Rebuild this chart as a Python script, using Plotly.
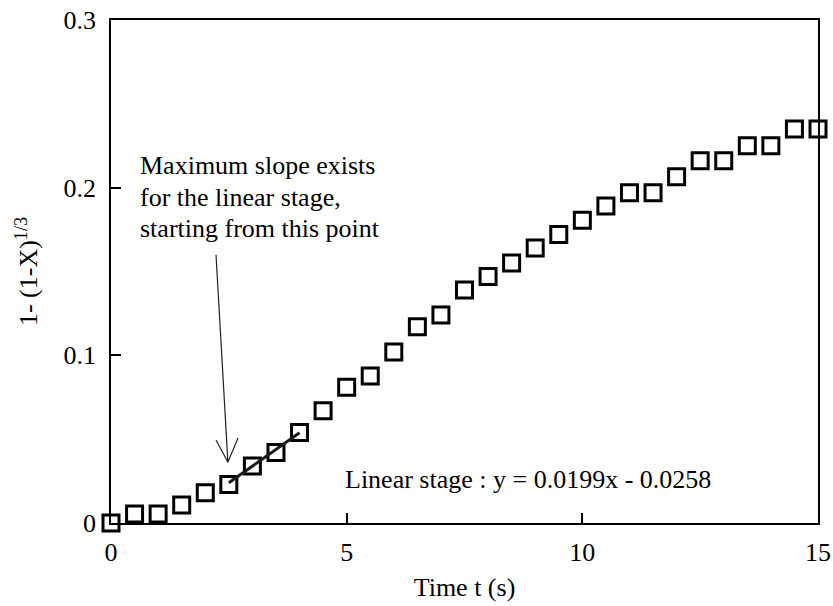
import plotly.graph_objects as go

# ---- data ----
time_s = [0.0, 0.5, 1.0, 1.5, 2.0, 2.5, 3.0, 3.5, 4.0, 4.5, 5.0, 5.5, 6.0, 6.5, 7.0, 7.5,
          8.0, 8.5, 9.0, 9.5, 10.0, 10.5, 11.0, 11.5, 12.0, 12.5, 13.0, 13.5, 14.0, 14.5, 15.0]
conv = [0.000, 0.0054, 0.0054, 0.0107, 0.018, 0.023, 0.034, 0.042, 0.054, 0.067, 0.081,
        0.0877, 0.102, 0.117, 0.124, 0.139, 0.147, 0.155, 0.164, 0.172, 0.1805, 0.189,
        0.197, 0.197, 0.2065, 0.216, 0.216, 0.225, 0.225, 0.235, 0.235]

fit_slope = 0.0199
fit_intercept = -0.0258
fit_range = [2.5, 4.0]

x_ticks = [0, 5, 10, 15]
y_ticks = [0, 0.1, 0.2, 0.3]
y_ticklabels = ["0", "0.1", "0.2", "0.3"]

FONT = "Liberation Serif"
FS = 26

fig = go.Figure()

fig.add_trace(go.Scatter(
    x=time_s, y=conv, mode="markers",
    marker=dict(symbol="square-open", size=16, color="black", line=dict(width=3, color="black")),
    cliponaxis=False, showlegend=False,
))

fit_x = fit_range
fit_y = [fit_slope * v + fit_intercept for v in fit_x]
fig.add_trace(go.Scatter(
    x=fit_x, y=fit_y, mode="lines",
    line=dict(color="#1a1a1a", width=3), showlegend=False,
))

# arrow (thin shaft with open V head)
tip = (2.48, 0.0363)
fig.add_shape(type="path",
              path=f"M 2.228,0.160 L {tip[0]},{tip[1]} M 2.228,0.0495 L {tip[0]},{tip[1]} L 2.695,0.0507",
              xref="x", yref="y", line=dict(color="#222", width=1.2))

note_lines = ["Maximum slope exists", "for the linear stage,", "starting from this point"]
note_y = [0.2135, 0.1944, 0.1755]
for txt, yy in zip(note_lines, note_y):
    fig.add_annotation(x=0.573, y=yy, xref="x", yref="y", text=txt, showarrow=False,
                       xanchor="left", yanchor="middle", font=dict(family=FONT, size=FS, color="black"))

fig.add_annotation(x=4.92, y=0.0262, xref="x", yref="y",
                   text=f"Linear stage : y = {fit_slope:.4f}x - {abs(fit_intercept):.4f}",
                   showarrow=False, xanchor="left", yanchor="middle",
                   font=dict(family=FONT, size=FS, color="black"))

fig.update_layout(
    width=833, height=606,
    margin=dict(l=111, r=15, t=20, b=83, autoexpand=False),
    paper_bgcolor="white", plot_bgcolor="white",
    font=dict(family=FONT, size=FS, color="black"),
    xaxis=dict(range=[0, 15], tickvals=x_ticks, ticks="inside", ticklen=10, tickwidth=1.5,
               tickcolor="black", showline=True, linecolor="black", linewidth=1.5, mirror=True,
               showgrid=False, zeroline=False, ticklabelstandoff=5, automargin=False,
               title=dict(text="Time t (s)", font=dict(family=FONT, size=FS), standoff=12)),
    yaxis=dict(range=[0, 0.3], tickvals=y_ticks, ticktext=y_ticklabels, ticks="inside", ticklen=10,
               tickwidth=1.5, tickcolor="black", showline=True, linecolor="black", linewidth=1.5,
               mirror=True, showgrid=False, zeroline=False, ticklabelstandoff=8, automargin=False,
               title=dict(text="1- (1-X)<sup>1/3</sup>", font=dict(family=FONT, size=FS), standoff=18)),
)

fig.write_html("out.html")
